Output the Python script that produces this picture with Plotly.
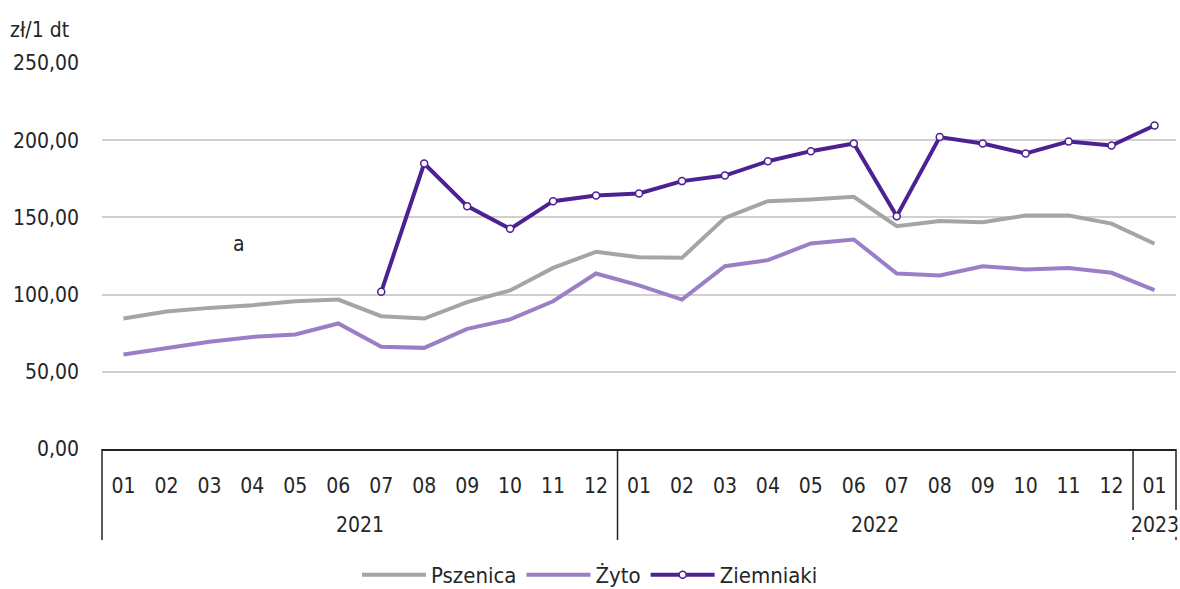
import plotly.graph_objects as go

years = ["2021", "2022", "2023"]
year_counts = [12, 12, 1]
months = ["01", "02", "03", "04", "05", "06", "07", "08", "09", "10", "11", "12"] * 2 + ["01"]

pszenica = [84.5, 89.0, 91.4, 93.1, 95.7, 96.8, 86.0, 84.5, 95.1, 102.7, 117.3, 127.7,
            124.2, 123.8, 149.7, 160.5, 161.6, 163.3, 144.3, 147.6, 146.8, 151.2, 151.2, 146.0,
            132.9]
zyto = [61.2, 65.5, 69.5, 72.6, 74.2, 81.3, 66.2, 65.5, 77.8, 83.9, 95.7, 113.7,
        106.0, 96.8, 118.4, 122.3, 133.1, 135.7, 113.7, 112.4, 118.4, 116.3, 117.3, 114.1,
        102.9]
ziemniaki = [None, None, None, None, None, None, 101.8, 184.9, 157.3, 142.6, 160.5, 164.2,
             165.5, 173.5, 177.1, 186.4, 192.9, 197.9, 150.8, 202.0, 197.9, 191.4, 199.2, 196.6,
             209.5]

FONT = "DejaVu Sans Condensed, DejaVu Sans, sans-serif"
FS = 21
TXT = "#262626"
n = len(months)
xs = list(range(n))

fig = go.Figure()
fig.add_trace(go.Scatter(x=xs, y=pszenica, name="Pszenica", mode="lines",
                         line=dict(color="#a5a5a5", width=4)))
fig.add_trace(go.Scatter(x=xs, y=zyto, name="Żyto", mode="lines",
                         line=dict(color="#9a7fc7", width=4)))
fig.add_trace(go.Scatter(x=xs, y=ziemniaki, name="Ziemniaki", mode="lines+markers",
                         line=dict(color="#4b2193", width=4),
                         marker=dict(size=7, color="white", line=dict(color="#4b2193", width=1.5))))

# unit label
fig.add_annotation(x=0, y=1, xref="paper", yref="paper", xshift=-94, yshift=33,
                   text="zł/1 dt", showarrow=False, xanchor="left", yanchor="middle",
                   font=dict(family=FONT, size=FS, color=TXT))
fig.add_annotation(x=2.7, y=133, xref="x", yref="y", text="a", showarrow=False,
                   font=dict(family=FONT, size=FS, color=TXT))

# year labels and group separators
start = 0
bounds = [0]
for yr, cnt in zip(years, year_counts):
    mid = start + (cnt - 1) / 2
    fig.add_annotation(x=mid, y=0, xref="x", yref="paper", yshift=-76, text=yr,
                       showarrow=False, yanchor="middle",
                       font=dict(family=FONT, size=FS, color=TXT))
    start += cnt
    bounds.append(start)

for b in bounds:
    px = b / n
    short = b >= n - 1
    if short:
        fig.add_shape(type="line", xref="paper", yref="paper", x0=px, x1=px, y0=0, y1=-61 / 386,
                      line=dict(color="#222", width=1.5))
        fig.add_shape(type="line", xref="paper", yref="paper", x0=px, x1=px,
                      y0=-88 / 386, y1=-91 / 386, line=dict(color="#222", width=1.5))
    else:
        fig.add_shape(type="line", xref="paper", yref="paper", x0=px, x1=px, y0=0, y1=-91 / 386,
                      line=dict(color="#222", width=1.5))

fig.update_layout(
    width=1180, height=589,
    margin=dict(l=102, r=4, t=63, b=140),
    plot_bgcolor="white", paper_bgcolor="white",
    separators=", ",
    font=dict(family=FONT, size=FS, color=TXT),
    showlegend=True,
    legend=dict(orientation="h", x=0.5, xanchor="center", xref="container",
                y=0.024, yanchor="middle", yref="container",
                font=dict(family=FONT, size=22, color=TXT), itemwidth=64,
                traceorder="normal"),
    xaxis=dict(range=[-0.5, n - 0.5], tickvals=xs, ticktext=months,
               showline=True, linecolor="#222", linewidth=1.5, showgrid=False, zeroline=False,
               ticks="", ticklabelstandoff=17, automargin=False,
               tickfont=dict(family=FONT, size=FS, color=TXT)),
    yaxis=dict(range=[0, 250], tickvals=[0, 50, 100, 150, 200, 250], tickformat=".2f",
               showgrid=True, gridcolor="#d0d0d0", gridwidth=1.5, zeroline=False,
               showline=False, ticks="", ticklabelstandoff=22, automargin=False,
               tickfont=dict(family=FONT, size=FS, color=TXT)),
)

fig.write_html("out.html", config={"displayModeBar": False},
               post_script="document.body.style.margin='0';")
